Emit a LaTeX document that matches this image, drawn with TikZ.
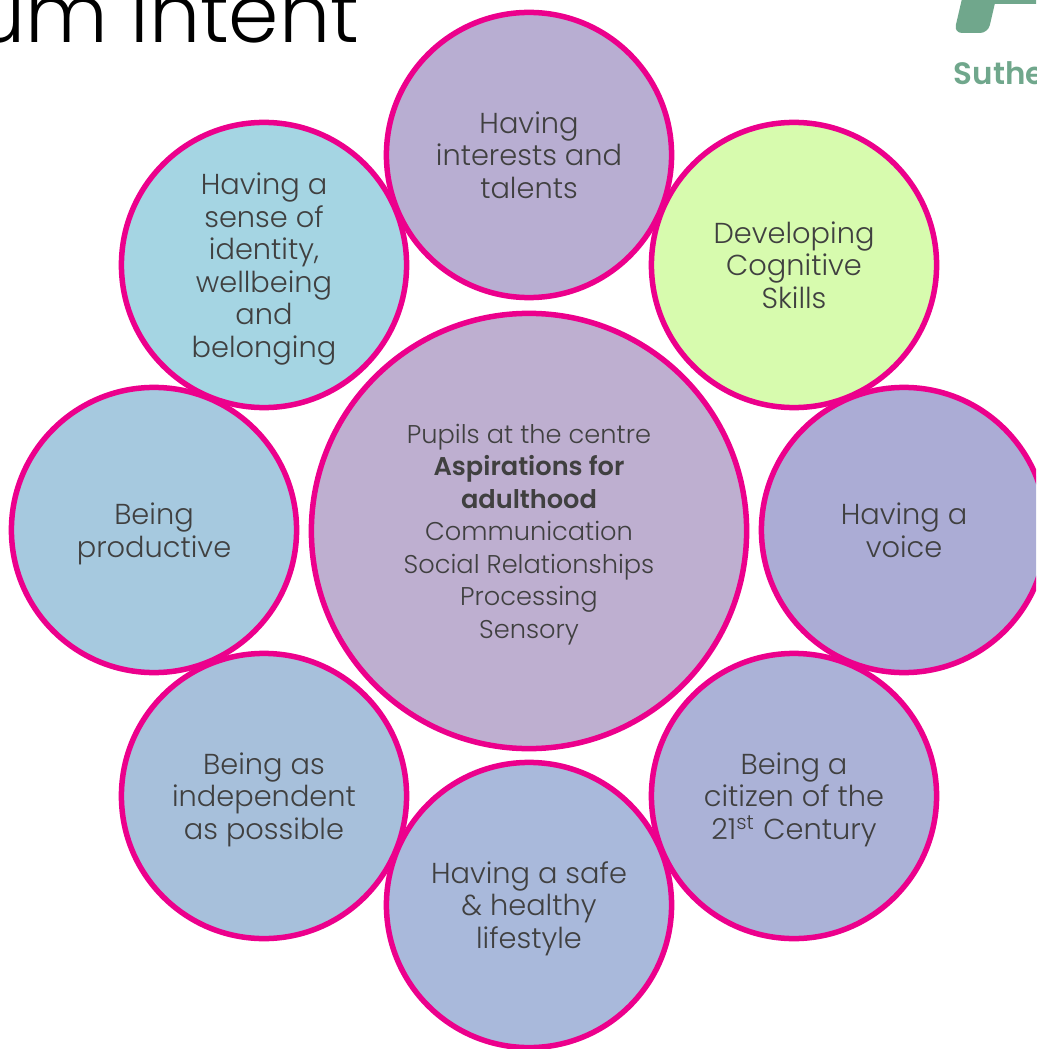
\documentclass[tikz,border=0pt]{standalone}
\usepackage{fontspec}
\setmainfont{Poppins}[UprightFont=* Light,BoldFont=* SemiBold]
\definecolor{rim}{HTML}{EC008C}
\definecolor{ink}{HTML}{404040}
\definecolor{logogreen}{HTML}{70A78C}
\tikzstyle{petal}=[circle,draw=rim,line width=0.055cm,minimum size=2.85cm,inner sep=0pt,align=center,text=ink,font=\fontsize{8.2pt}{9.25pt}\selectfont,text depth=0pt]

\begin{document}
\begin{tikzpicture}[x=0.01cm,y=-0.01cm]
\useasboundingbox (0,0) rectangle (1036,1049);
\clip (0,0) rectangle (1036,1049);
\node[anchor=base east,inner sep=0pt,font=\fontsize{23pt}{23pt}\selectfont] (title) at (360,43) {um Intent};
\fill[logogreen,rounded corners=0.08cm] (964,-10) -- (954,33) -- (988,33) -- (998,-10) -- cycle;
\fill[logogreen] (995,-5) rectangle (1040,4);
\node[anchor=base west,inner sep=0pt,text=logogreen,font=\fontsize{8.8pt}{9pt}\selectfont\bfseries] (logo) at (953,85) {Suthe};
\node[petal,fill={rgb,255:red,165;green,213;blue,227}] (identity) at (264,265) {Having a\\sense of\\identity,\\wellbeing\\and\\belonging};
\node[petal,fill={rgb,255:red,166;green,201;blue,223}] (productive) at (154,530) {Being\\productive};
\node[petal,fill={rgb,255:red,167;green,192;blue,219}] (independent) at (264,796) {Being as\\independent\\as possible};
\node[petal,fill={rgb,255:red,215;green,251;blue,174}] (cognitive) at (794,265) {Developing\\Cognitive\\Skills};
\node[petal,fill={rgb,255:red,171;green,178;blue,215}] (citizen) at (794,796) {Being a\\citizen of the\\21\textsuperscript{st} Century};
\node[petal,fill={rgb,255:red,171;green,172;blue,213}] (voice) at (904,530) {Having a\\voice};
\node[petal,fill={rgb,255:red,184;green,174;blue,210}] (talents) at (529,155) {Having\\interests and\\talents};
\node[petal,fill={rgb,255:red,169;green,185;blue,219}] (lifestyle) at (529,905) {Having a safe\\\& healthy\\lifestyle};
\node[petal,minimum size=4.35cm,font=\fontsize{7.3pt}{9.25pt}\selectfont,fill={rgb,255:red,190;green,175;blue,208}] (centre) at (529,531) {Pupils at the centre\\\textbf{Aspirations for}\\\textbf{adulthood}\\Communication\\Social Relationships\\Processing\\Sensory};
\end{tikzpicture}
\end{document}
